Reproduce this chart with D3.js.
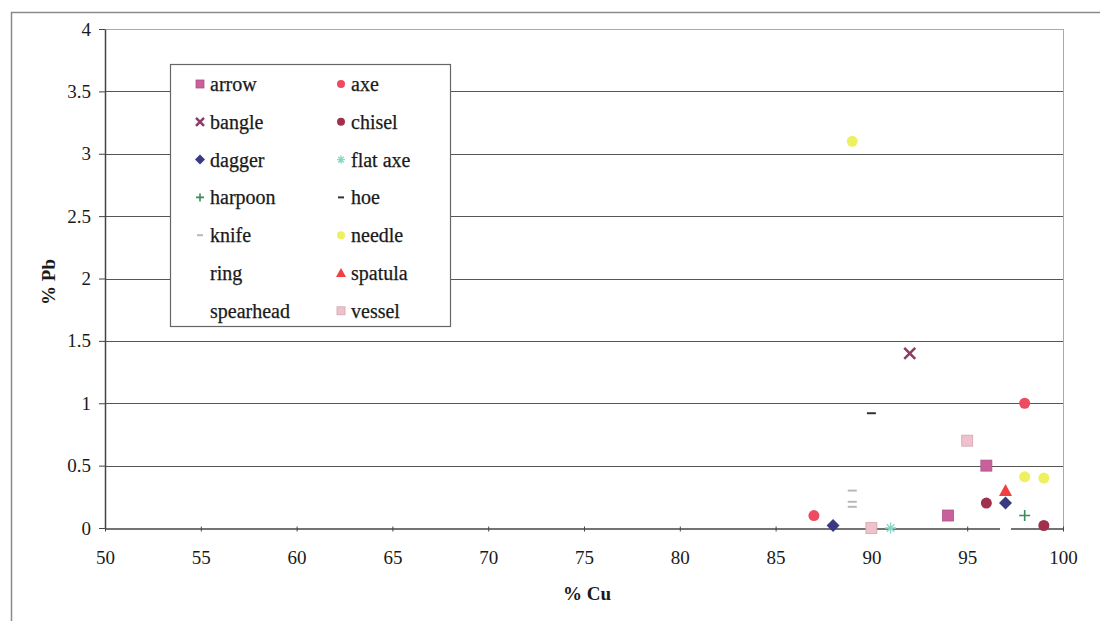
<!DOCTYPE html>
<html>
<head>
<meta charset="utf-8">
<script src="https://cdn.jsdelivr.net/npm/d3@7"></script>
<style>
  html, body { margin: 0; padding: 0; background: #fff; }
  svg text { font-family: "Liberation Serif", "Times New Roman", serif !important; }
</style>
</head>
<body>
<svg id="chart" width="1100" height="621"></svg>
<script>
// ---- data ----
const categories = ["arrow", "axe", "bangle", "chisel", "dagger", "flat axe", "harpoon", "hoe", "knife", "needle", "ring", "spatula", "spearhead", "vessel"];
const arrowPts    = [[94, 0.1], [96, 0.5]];
const axePts      = [[87, 0.1], [98, 1.0]];
const banglePts   = [[92, 1.4]];
const chiselPts   = [[96, 0.2], [99, 0.02]];
const daggerPts   = [[88, 0.02], [97, 0.2]];
const flatAxePts  = [[91, 0]];
const harpoonPts  = [[98, 0.1]];
const hoePts      = [[90, 0.92]];
const knifePts    = [[89, 0.3], [89, 0.21], [89, 0.17]];
const needlePts   = [[89, 3.1], [98, 0.41], [99, 0.4]];
const ringPts     = [[97, 0]];
const spatulaPts  = [[97, 0.3]];
const spearheadPts= [[97, 0]];
const vesselPts   = [[95, 0.7], [90, 0]];
const xTicks = [50, 55, 60, 65, 70, 75, 80, 85, 90, 95, 100];
const yTicks = [0, 0.5, 1, 1.5, 2, 2.5, 3, 3.5, 4];

const seriesData = [arrowPts, axePts, banglePts, chiselPts, daggerPts, flatAxePts, harpoonPts, hoePts, knifePts, needlePts, ringPts, spatulaPts, spearheadPts, vesselPts];

// styles
const styles = {
  "arrow":     {shape: "square",   color: "#c8609c"},
  "axe":       {shape: "circle",   color: "#ee4a60"},
  "bangle":    {shape: "x",        color: "#8c3c64"},
  "chisel":    {shape: "circle",   color: "#a0304c"},
  "dagger":    {shape: "diamond",  color: "#3a3a80"},
  "flat axe":  {shape: "star",     color: "#88d8c8"},
  "harpoon":   {shape: "plus",     color: "#3a8a5a"},
  "hoe":       {shape: "dash",     color: "#333333"},
  "knife":     {shape: "dash",     color: "#b8b8b8"},
  "needle":    {shape: "circle",   color: "#eef060"},
  "ring":      {shape: "circle",   color: "#ffffff"},
  "spatula":   {shape: "triangle", color: "#f04040"},
  "spearhead": {shape: "circle",   color: "#ffffff"},
  "vessel":    {shape: "square",   color: "#f0c0cc"}
};

const FONT = "'Liberation Serif', 'Times New Roman', serif";
const TXT = "#1a1a1a";
const svg = d3.select("#chart").style("font-family", FONT);

// outer border
svg.append("rect").attr("x", 11.5).attr("y", 12.5).attr("width", 1110).attr("height", 640)
  .attr("fill", "none").attr("stroke", "#8a8a8a").attr("stroke-width", 1.5);

const x = d3.scaleLinear().domain([50, 100]).range([105, 1063]);
const y = d3.scaleLinear().domain([0, 4]).range([528, 29]);

// gridlines
svg.append("g").selectAll("line").data(yTicks.filter(d => d > 0)).join("line")
  .attr("x1", x(50)).attr("x2", x(100))
  .attr("y1", d => Math.round(y(d)) + 0.5).attr("y2", d => Math.round(y(d)) + 0.5)
  .attr("stroke", d => d === 4 ? "#aaaaaa" : "#555555").attr("stroke-width", 1);

// right border of plot
svg.append("line").attr("x1", x(100) + 0.5).attr("x2", x(100) + 0.5)
  .attr("y1", y(4)).attr("y2", y(0)).attr("stroke", "#aaaaaa");

// axes
const xAxis = d3.axisBottom(x).tickValues(xTicks).tickSize(5).tickSizeOuter(0).tickPadding(17);
const yAxis = d3.axisLeft(y).tickValues(yTicks).tickSize(6).tickSizeOuter(0).tickPadding(8)
  .tickFormat(d => String(d));

const gx = svg.append("g").attr("transform", `translate(0,${Math.round(y(0)) + 0.5})`).call(xAxis);
gx.select(".domain").attr("stroke", "#444").attr("stroke-width", 1.5);
gx.selectAll(".tick line").attr("stroke", "#444").attr("transform", "translate(0,-2)");
gx.selectAll(".tick text").attr("font-size", 19).attr("fill", TXT).style("font-family", FONT);

const gy = svg.append("g").attr("transform", `translate(${x(50)},0)`).call(yAxis);
gy.select(".domain").attr("stroke", "#444").attr("stroke-width", 1.5);
gy.selectAll(".tick line").attr("stroke", "#444");
gy.selectAll(".tick text").attr("font-size", 19).attr("fill", TXT).style("font-family", FONT);

// axis titles
svg.append("text").attr("x", 587).attr("y", 600).attr("text-anchor", "middle")
  .attr("font-size", 19).attr("font-weight", "bold").attr("fill", TXT).text("% Cu");
svg.append("text").attr("transform", "translate(55,282) rotate(-90)").attr("text-anchor", "middle")
  .attr("font-size", 19).attr("font-weight", "bold").attr("fill", TXT).text("% Pb");

// marker drawing
function drawMarker(g, shape, color, size) {
  const s = size;
  switch (shape) {
    case "square":
      g.append("rect").attr("x", -s).attr("y", -s).attr("width", 2 * s).attr("height", 2 * s)
        .attr("fill", color).attr("stroke", d3.color(color).darker(0.4)).attr("stroke-width", 0.8);
      break;
    case "circle":
      g.append("circle").attr("r", s).attr("fill", color);
      break;
    case "diamond":
      g.append("path").attr("d", `M0,${-s - 1}L${s + 1},0L0,${s + 1}L${-s - 1},0Z`).attr("fill", color);
      break;
    case "triangle":
      g.append("path").attr("d", `M0,${-s - 1}L${s + 1},${s}L${-s - 1},${s}Z`).attr("fill", color);
      break;
    case "x":
      g.append("path").attr("d", `M${-s},${-s}L${s},${s}M${s},${-s}L${-s},${s}`)
        .attr("stroke", color).attr("stroke-width", 2.5);
      break;
    case "plus":
      g.append("path").attr("d", `M${-s},0L${s},0M0,${-s}L0,${s}`)
        .attr("stroke", color).attr("stroke-width", 1.6);
      break;
    case "star":
      g.append("path").attr("d", `M${-s},0L${s},0M0,${-s}L0,${s}M${-s*0.7},${-s*0.7}L${s*0.7},${s*0.7}M${s*0.7},${-s*0.7}L${-s*0.7},${s*0.7}`)
        .attr("stroke", color).attr("stroke-width", 1.4);
      break;
    case "dash":
      g.append("path").attr("d", `M${-s + 1},0L${s - 1},0`).attr("stroke", color).attr("stroke-width", 2);
      break;
  }
}

// points
const pts = svg.append("g");
categories.forEach((cat, i) => {
  const st = styles[cat];
  pts.selectAll(null).data(seriesData[i]).join("g")
    .attr("transform", d => `translate(${x(d[0])},${y(d[1])})`)
    .each(function() { drawMarker(d3.select(this), st.shape, st.color, 5.5); });
});

// legend
const legend = svg.append("g");
legend.append("rect").attr("x", 170.5).attr("y", 64.5).attr("width", 280).attr("height", 262)
  .attr("fill", "#fff").attr("stroke", "#666").attr("stroke-width", 1.2);
categories.forEach((cat, i) => {
  const col = i % 2, row = Math.floor(i / 2);
  const lx = col === 0 ? 200 : 341;
  const ly = 84 + row * 37.8;
  const g = legend.append("g").attr("transform", `translate(${lx},${ly})`);
  drawMarker(g, styles[cat].shape, styles[cat].color, 4);
  legend.append("text").attr("x", lx + 10).attr("y", ly + 7).attr("font-size", 20)
    .attr("fill", TXT).attr("stroke", TXT).attr("stroke-width", 0.25).text(cat);
});
</script>
</body>
</html>
